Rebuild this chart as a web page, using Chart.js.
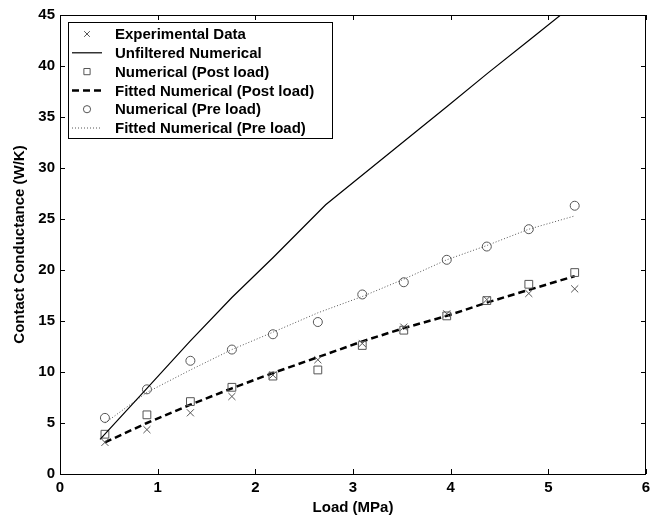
<!DOCTYPE html>
<html>
<head>
<meta charset="utf-8">
<script src="https://cdn.jsdelivr.net/npm/chart.js@4"></script>
<style>
  html, body { margin: 0; padding: 0; background: #fff; }
</style>
</head>
<body>
<canvas id="chart" width="661" height="519"></canvas>
<script>
// load values (MPa) where the measurements / numerical runs were taken
const loads = [0.46, 0.89, 1.335, 1.76, 2.18, 2.64, 3.095, 3.52, 3.96, 4.37, 4.8, 5.27];
const experimental = [3.1, 4.35, 6.0, 7.6, 9.7, 11.2, 12.8, 14.4, 15.7, 17.1, 17.7, 18.15];
const postLoad = [3.9, 5.8, 7.1, 8.5, 9.6, 10.2, 12.6, 14.1, 15.5, 17.0, 18.6, 19.75];
const postFit = [3.1, 5.0, 6.8, 8.4, 9.9, 11.45, 13.0, 14.3, 15.5, 16.8, 18.05, 19.4];
const preLoad = [5.5, 8.3, 11.1, 12.2, 13.7, 14.9, 17.6, 18.8, 21.0, 22.3, 24.0, 26.3];
const preFit = [5.0, 8.0, 10.2, 12.2, 13.9, 15.8, 17.4, 19.1, 21.0, 22.4, 24.0, 25.3];
// unfiltered numerical curve
const unfilteredLoads = [0.41, 0.89, 1.33, 1.76, 2.18, 2.72, 3.52, 3.96, 4.38, 4.8, 5.27];
const unfiltered = [3.4, 8.4, 13.0, 17.3, 21.2, 26.4, 32.6, 36.0, 39.3, 42.5, 46.1];

const xTicks = [0, 1, 2, 3, 4, 5, 6];
const yTicks = [0, 5, 10, 15, 20, 25, 30, 35, 40, 45];

function pts(xs, ys) {
  return xs.map((x, i) => ({x: x, y: ys[i]}));
}

const markerGray = '#555';
const tickFont = {family: 'Liberation Sans, Arial, sans-serif', size: 15, weight: 'bold'};
const titleFont = {family: 'Liberation Sans, Arial, sans-serif', size: 15, weight: 'bold'};

const datasets = [
  {label: 'Experimental Data', data: pts(loads, experimental), showLine: false,
   pointStyle: 'crossRot', pointRadius: 5, borderColor: markerGray, pointBorderWidth: 1},
  {label: 'Unfiltered Numerical', data: pts(unfilteredLoads, unfiltered), showLine: true,
   pointRadius: 0, borderColor: '#000', borderWidth: 1.2},
  {label: 'Numerical (Post load)', data: pts(loads, postLoad), showLine: false,
   pointStyle: 'rect', pointRadius: 5.5, borderColor: markerGray, backgroundColor: 'rgba(0,0,0,0)', pointBorderWidth: 1},
  {label: 'Fitted Numerical (Post load)', data: pts(loads, postFit), showLine: true,
   pointRadius: 0, borderColor: '#000', borderWidth: 2.5, borderDash: [7, 4]},
  {label: 'Numerical (Pre load)', data: pts(loads, preLoad), showLine: false,
   pointStyle: 'circle', pointRadius: 4.5, borderColor: markerGray, backgroundColor: 'rgba(0,0,0,0)', pointBorderWidth: 1},
  {label: 'Fitted Numerical (Pre load)', data: pts(loads, preFit), showLine: true,
   pointRadius: 0, borderColor: '#555', borderWidth: 1, borderDash: [1, 2]}
];

// box, inward ticks and the legend in the upper left corner
const framePlugin = {
  id: 'frame',
  afterDraw(chart) {
    const ctx = chart.ctx;
    const a = chart.chartArea;
    const xs = chart.scales.x, ys = chart.scales.y;
    ctx.save();
    ctx.strokeStyle = '#000';
    ctx.lineWidth = 1;
    ctx.strokeRect(a.left + 0.5, a.top + 0.5, a.right - a.left - 1, a.bottom - a.top);
    const tl = 5;
    ctx.beginPath();
    xTicks.forEach(v => {
      const px = Math.round(xs.getPixelForValue(v)) + 0.5;
      ctx.moveTo(px, a.bottom); ctx.lineTo(px, a.bottom - tl);
      ctx.moveTo(px, a.top); ctx.lineTo(px, a.top + tl);
    });
    yTicks.forEach(v => {
      const py = Math.round(ys.getPixelForValue(v)) + 0.5;
      ctx.moveTo(a.left, py); ctx.lineTo(a.left + tl, py);
      ctx.moveTo(a.right, py); ctx.lineTo(a.right - tl, py);
    });
    ctx.stroke();

    // legend
    const lx = a.left + 8, ly = a.top + 7, lw = 264, lh = 116;
    ctx.fillStyle = '#fff';
    ctx.fillRect(lx, ly, lw, lh);
    ctx.strokeRect(lx + 0.5, ly + 0.5, lw, lh);
    ctx.font = 'bold 15px "Liberation Sans", Arial, sans-serif';
    ctx.textBaseline = 'middle';
    chart.data.datasets.forEach((ds, i) => {
      const cy = ly + 12 + i * 18.8;
      const sx = lx + 4, ex = lx + 34, mx = (sx + ex) / 2;
      if (ds.showLine) {
        ctx.save();
        ctx.strokeStyle = ds.borderColor;
        ctx.lineWidth = ds.borderWidth;
        ctx.setLineDash(ds.borderDash || []);
        ctx.beginPath();
        ctx.moveTo(sx, cy); ctx.lineTo(ex, cy);
        ctx.stroke();
        ctx.restore();
      } else {
        ctx.save();
        ctx.lineWidth = 1;
        ctx.fillStyle = 'rgba(0,0,0,0)';
        ctx.strokeStyle = ds.borderColor;
        Chart.helpers.drawPoint(ctx, {pointStyle: ds.pointStyle, radius: ds.pointRadius * 0.8,
          borderWidth: 1}, mx, cy);
        ctx.restore();
      }
      ctx.fillStyle = '#000';
      ctx.fillText(ds.label, lx + 47, cy + 1);
    });
    ctx.restore();
  }
};

new Chart(document.getElementById('chart'), {
  type: 'scatter',
  data: {datasets: datasets},
  options: {
    responsive: false,
    animation: false,
    layout: {padding: {top: 15, right: 15, left: 0, bottom: 0}},
    plugins: {legend: {display: false}, tooltip: {enabled: false}},
    scales: {
      x: {
        type: 'linear', min: 0, max: 6,
        afterBuildTicks: s => { s.ticks = xTicks.map(v => ({value: v})); },
        afterFit: s => { s.height = 45; },
        grid: {display: false, drawTicks: false},
        border: {display: false},
        ticks: {color: '#000', font: tickFont, padding: 5},
        title: {display: true, text: 'Load (MPa)', color: '#000', font: titleFont, padding: {top: 2, bottom: 2}}
      },
      y: {
        type: 'linear', min: 0, max: 45,
        afterBuildTicks: s => { s.ticks = yTicks.map(v => ({value: v})); },
        afterFit: s => { s.width = 60; },
        grid: {display: false, drawTicks: false},
        border: {display: false},
        ticks: {color: '#000', font: tickFont, padding: 5},
        title: {display: true, text: 'Contact Conductance (W/K)', color: '#000', font: titleFont, padding: {top: 11, bottom: 0}}
      }
    }
  },
  plugins: [framePlugin]
});
</script>
</body>
</html>
